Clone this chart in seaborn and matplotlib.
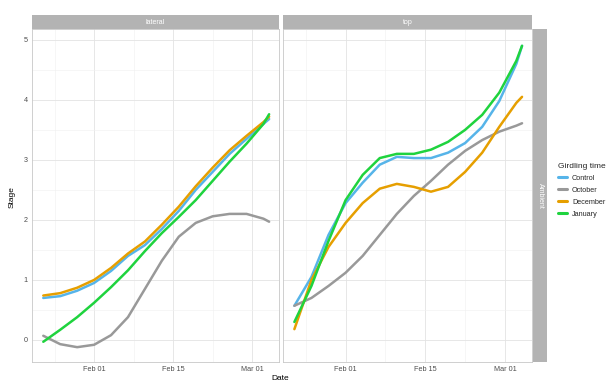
import pandas as pd
import numpy as np
import matplotlib
matplotlib.use("Agg")
import matplotlib.pyplot as plt
import matplotlib.dates as mdates
import seaborn as sns

# ─────────────────────────────────────────
# DATA
# ─────────────────────────────────────────
dates = ["2023-01-23", "2023-01-26", "2023-01-29", "2023-02-01", "2023-02-04",
         "2023-02-07", "2023-02-10", "2023-02-13", "2023-02-16", "2023-02-19",
         "2023-02-22", "2023-02-25", "2023-02-28", "2023-03-03", "2023-03-04"]

groups = ["Control", "October", "December", "January"]
panels = ["lateral", "top"]
strip_right = "Ambient"

lateral_control  = [0.70, 0.73, 0.82, 0.95, 1.15, 1.40, 1.58, 1.85, 2.15, 2.50, 2.80, 3.10, 3.35, 3.60, 3.68]
lateral_october  = [0.07, -0.07, -0.12, -0.08, 0.08, 0.38, 0.85, 1.32, 1.72, 1.95, 2.06, 2.10, 2.10, 2.02, 1.97]
lateral_december = [0.74, 0.78, 0.87, 1.00, 1.20, 1.44, 1.64, 1.92, 2.22, 2.56, 2.87, 3.16, 3.40, 3.63, 3.72]
lateral_january  = [-0.03, 0.17, 0.38, 0.62, 0.88, 1.16, 1.48, 1.78, 2.05, 2.33, 2.65, 2.97, 3.27, 3.60, 3.76]

top_control  = [0.57, 1.05, 1.75, 2.28, 2.62, 2.92, 3.05, 3.03, 3.03, 3.12, 3.28, 3.55, 3.98, 4.60, 4.90]
top_october  = [0.57, 0.70, 0.90, 1.12, 1.40, 1.75, 2.10, 2.40, 2.65, 2.92, 3.15, 3.33, 3.47, 3.57, 3.61]
top_december = [0.18, 1.00, 1.55, 1.95, 2.28, 2.52, 2.60, 2.55, 2.47, 2.55, 2.80, 3.12, 3.55, 3.95, 4.05]
top_january  = [0.30, 0.90, 1.65, 2.33, 2.75, 3.03, 3.10, 3.10, 3.17, 3.30, 3.50, 3.75, 4.12, 4.65, 4.90]

palette = {"Control": "#56B4E9", "October": "#999999",
           "December": "#E69F00", "January": "#1FD33E"}

# long format frame
series = {
    ("lateral", "Control"): lateral_control,
    ("lateral", "October"): lateral_october,
    ("lateral", "December"): lateral_december,
    ("lateral", "January"): lateral_january,
    ("top", "Control"): top_control,
    ("top", "October"): top_october,
    ("top", "December"): top_december,
    ("top", "January"): top_january,
}
rows = []
for (panel, grp), vals in series.items():
    for d, v in zip(dates, vals):
        rows.append({"panel": panel, "group": grp, "Date": pd.Timestamp(d), "Stage": v})
df = pd.DataFrame(rows)

# ─────────────────────────────────────────
# FIGURE
# ─────────────────────────────────────────
sns.set_style("white")
plt.rcParams['font.family'] = ['Liberation Sans', 'DejaVu Sans']

W, H = 613, 383
fig = plt.figure(figsize=(W / 100, H / 100), dpi=100)

def frac(x0, y0, x1, y1):
    return [x0 / W, 1 - y1 / H, (x1 - x0) / W, (y1 - y0) / H]

panel_boxes = [(32, 29, 279, 362), (283, 29, 532, 362)]
xlim = (mdates.date2num(pd.Timestamp("2023-01-21")),
        mdates.date2num(pd.Timestamp("2023-03-05 18:00")))
major_ticks = [pd.Timestamp(d) for d in ["2023-02-01", "2023-02-15", "2023-03-01"]]
minor_ticks = [pd.Timestamp(d) for d in ["2023-01-25", "2023-02-08", "2023-02-22"]]

axes = []
for i, (panel, box) in enumerate(zip(panels, panel_boxes)):
    ax = fig.add_axes(frac(*box))
    sub = df[df["panel"] == panel]
    sns.lineplot(data=sub, x="Date", y="Stage", hue="group", hue_order=groups,
                 palette=palette, linewidth=1.8, ax=ax, legend=(i == 1),
                 sort=True)
    ax.set_xlim(*xlim)
    ax.set_ylim(-0.367, 5.18)
    ax.set_xticks(major_ticks)
    ax.set_xticks(minor_ticks, minor=True)
    ax.xaxis.set_major_formatter(mdates.DateFormatter("%b %d"))
    ax.set_yticks([0, 1, 2, 3, 4, 5])
    ax.set_yticks([0.5, 1.5, 2.5, 3.5, 4.5], minor=True)
    ax.grid(True, which="major", color="#E3E3E3", linewidth=0.6)
    ax.grid(True, which="minor", color="#F0F0F0", linewidth=0.4)
    ax.set_axisbelow(True)
    for s in ax.spines.values():
        s.set_color("#C8C8C8")
        s.set_linewidth(0.6)
    ax.tick_params(axis="both", which="both", length=0, labelsize=5.2,
                   colors="#4D4D4D", pad=3)
    ax.set_xlabel("")
    ax.set_ylabel("")
    if i == 1:
        ax.set_yticklabels([])
    # top strip
    sx0, sy0, sx1, sy1 = box
    strip = fig.add_axes(frac(sx0, 15, sx1, 29))
    strip.set_facecolor("#B3B3B3")
    strip.set_xticks([])
    strip.set_yticks([])
    for s in strip.spines.values():
        s.set_visible(False)
    strip.text(0.5, 0.5, panel, color="white", fontsize=5, ha="center", va="center",
               transform=strip.transAxes)
    axes.append(ax)

# right strip
rs = fig.add_axes(frac(533, 29, 547, 362))
rs.set_facecolor("#B3B3B3")
rs.set_xticks([])
rs.set_yticks([])
for s in rs.spines.values():
    s.set_visible(False)
rs.text(0.5, 0.5, strip_right, color="white", fontsize=5, rotation=-90,
        ha="center", va="center", transform=rs.transAxes)

# axis titles
fig.text(280 / W, 1 - 378 / H, "Date", fontsize=6, color="black", ha="center", va="center")
fig.text(12 / W, 1 - 197 / H, "Stage", fontsize=6, color="black", ha="center", va="center",
         rotation=90)

# legend
handles, labels = axes[1].get_legend_handles_labels()
axes[1].get_legend().remove()
for h in handles:
    h.set_linewidth(2.2)
fig.legend(handles, labels, loc="upper left", bbox_to_anchor=(551 / W, 1 - 156 / H),
           frameon=False, title="Girdling time", fontsize=5.2, title_fontsize=6,
           handlelength=1.3, handletextpad=0.7, labelspacing=0.7,
           alignment="left")

fig.savefig("out.png", dpi=100)
